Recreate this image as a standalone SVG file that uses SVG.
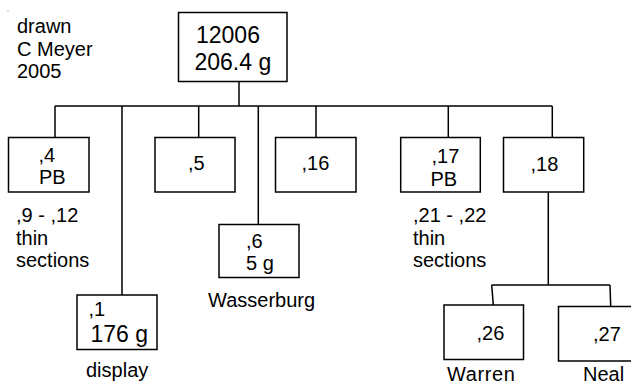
<svg xmlns="http://www.w3.org/2000/svg" width="631" height="386" viewBox="0 0 631 386">
<style>
text{font-family:"Liberation Sans",Arial,sans-serif;font-size:20px;fill:#000}
.big{font-size:23px}
.box{fill:#fff;stroke:#000;stroke-width:1.5}
.ln{fill:none;stroke:#000;stroke-width:1.5}
</style>
<rect width="631" height="386" fill="#fff"/>
<rect x="7.5" y="10.5" width="1" height="1" fill="#888"/>
<g id="credit">
<text x="17" y="33">drawn</text>
<text x="17" y="55.5">C Meyer</text>
<text x="17" y="78">2005</text>
</g>
<g id="connectors">
<path class="ln" d="M239 81.5V106M55 106H552.3M55 106V137.5M122 106V295M198.7 106V137.5M258.3 106V224.5M316 106V137.5M448.3 106V137.5M552.3 106V137.5"/>
<path class="ln" d="M548.3 192V285M491.7 285H610M491.7 285L493.3 305M610 285L610.7 306.5"/>
</g>
<g id="n12006">
<rect class="box" x="178.5" y="12.5" width="108.5" height="69"/>
<text class="big" x="196" y="42.5">12006</text>
<text class="big" x="194.5" y="70">206.4 g</text>
</g>
<g id="n4">
<rect class="box" x="8.5" y="137.5" width="80.5" height="54.5"/>
<text x="38.5" y="162">,4</text>
<text x="39" y="184">PB</text>
</g>
<g id="n4notes">
<text x="16" y="222">,9 - ,12</text>
<text x="16" y="245">thin</text>
<text x="16" y="267">sections</text>
</g>
<g id="n5">
<rect class="box" x="155" y="137.5" width="80" height="54.5"/>
<text x="188" y="170">,5</text>
</g>
<g id="n16">
<rect class="box" x="275.5" y="137.5" width="80.5" height="54.5"/>
<text x="301.5" y="170">,16</text>
</g>
<g id="n17">
<rect class="box" x="400.7" y="137.5" width="79.6" height="54.5"/>
<text x="431.5" y="163">,17</text>
<text x="430.5" y="186">PB</text>
</g>
<g id="n17notes">
<text x="413" y="222">,21 - ,22</text>
<text x="413" y="245">thin</text>
<text x="413" y="267">sections</text>
</g>
<g id="n18">
<rect class="box" x="503.5" y="137.5" width="80.2" height="54.5"/>
<text x="530.5" y="171">,18</text>
</g>
<g id="n6">
<rect class="box" x="219" y="224.5" width="80" height="53"/>
<text x="246" y="247.5">,6</text>
<text x="246" y="270">5 g</text>
<text x="208" y="307">Wasserburg</text>
</g>
<g id="n1">
<rect class="box" x="77" y="295" width="80" height="54.5"/>
<text x="88.5" y="316">,1</text>
<text class="big" x="90.5" y="342">176 g</text>
<text x="86" y="377">display</text>
</g>
<g id="n26">
<rect class="box" x="444" y="305" width="79.5" height="54.5"/>
<text x="476.5" y="340">,26</text>
<text x="447" y="381" letter-spacing="0.6">Warren</text>
</g>
<g id="n27">
<rect class="box" x="558.5" y="306.5" width="80" height="54.5"/>
<text x="593" y="340.5">,27</text>
<text x="583" y="381">Neal</text>
</g>
</svg>
